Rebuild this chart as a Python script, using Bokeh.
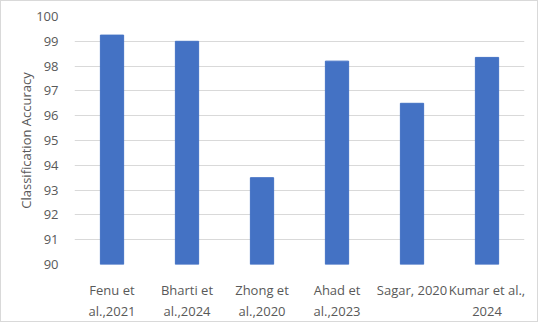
from bokeh.plotting import figure
from bokeh.models import Range1d, FactorRange, SingleIntervalTicker
from bokeh.embed import file_html
from bokeh.resources import INLINE

studies = ["Fenu et\nal.,2021", "Bharti et\nal.,2024", "Zhong et\nal.,2020",
           "Ahad et\nal.,2023", "Sagar, 2020", "Kumar et al.,\n2024"]
accuracy = [99.25, 99.0, 93.5, 98.2, 96.5, 98.35]
y_min, y_max = 90, 100

FONT = "Open Sans"
TXT = "#595959"

p = figure(x_range=FactorRange(*studies), y_range=Range1d(y_min, y_max),
           width=538, height=322, output_backend="svg", toolbar_location=None,
           min_border_left=73, min_border_right=15, min_border_top=15, min_border_bottom=50)
p.styles = {"border": "1px solid #d9d9d9"}
p.vbar(x=studies, top=accuracy, bottom=y_min, width=0.31, color="#4472C4")

p.outline_line_color = None
p.xgrid.grid_line_color = None
p.ygrid.grid_line_color = "#d9d9d9"
p.ygrid.grid_line_width = 1
p.yaxis.ticker = SingleIntervalTicker(interval=1)
for ax in (p.xaxis, p.yaxis):
    ax.axis_line_color = None
    ax.major_tick_line_color = None
    ax.minor_tick_line_color = None
    ax.major_label_text_font = FONT
    ax.major_label_text_font_size = "13px"
    ax.major_label_text_color = TXT
p.xaxis.major_label_standoff = 10
p.yaxis.major_label_standoff = 10
p.yaxis.axis_label = "Classification Accuracy"
p.yaxis.axis_label_text_font = FONT
p.yaxis.axis_label_text_font_size = "13px"
p.yaxis.axis_label_text_font_style = "normal"
p.yaxis.axis_label_text_color = TXT
p.yaxis.axis_label_standoff = -2

open("out.html", "w").write(file_html(p, INLINE))
